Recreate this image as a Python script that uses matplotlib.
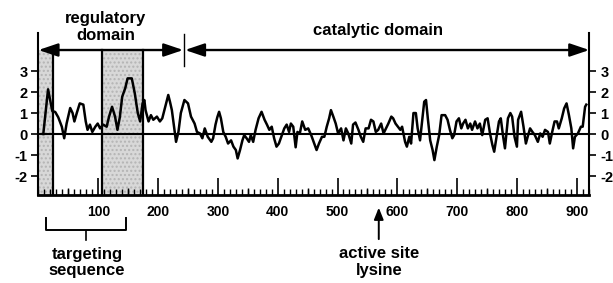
import matplotlib

matplotlib.use("Agg")
import matplotlib.pyplot as plt

plt.rcParams["font.family"] = ["Liberation Sans", "DejaVu Sans"]
plt.rcParams["font.weight"] = "bold"

# hydropathy profile (residue number, value)
residue = [
    8, 16, 23, 28, 33, 39, 43, 47, 53, 57,
    60, 64, 69, 75, 79, 82, 86, 90, 95, 99,
    103, 108, 114, 118, 123, 128, 132, 136, 140, 145,
    149, 156, 161, 166, 170, 174, 177, 179, 184, 188,
    192, 198, 203, 207, 212, 217, 220, 223, 227, 230,
    234, 238, 244, 250, 255, 261, 265, 270, 274, 278,
    283, 289, 292, 296, 299, 302, 305, 309, 313, 317,
    322, 326, 330, 333, 337, 341, 344, 348, 352, 355,
    359, 363, 368, 373, 378, 382, 386, 390, 394, 398,
    402, 407, 411, 415, 419, 422, 426, 430, 433, 437,
    441, 446, 451, 456, 460, 465, 469, 474, 478, 482,
    486, 489, 493, 497, 501, 506, 510, 514, 518, 523,
    526, 530, 535, 539, 543, 547, 552, 556, 560, 564,
    568, 573, 577, 581, 585, 590, 593, 597, 601, 605,
    608, 613, 616, 620, 623, 627, 631, 634, 638, 642,
    645, 648, 651, 655, 659, 662, 666, 670, 674, 680,
    684, 688, 692, 695, 699, 703, 707, 710, 714, 718,
    722, 725, 730, 734, 738, 742, 747, 751, 755, 759,
    762, 766, 770, 773, 777, 780, 785, 789, 792, 796,
    800, 802, 807, 811, 815, 818, 822, 826, 830, 835,
    839, 843, 847, 852, 855, 859, 863, 867, 870, 875,
    879, 883, 887, 891, 894, 897, 902, 907, 910, 914,
    916,
]
hydropathy = [
    0, 2.13, 1.1, 1.05, 0.8, 0.35, -0.2, 0.5, 1.24, 1.0,
    0.6, 1.0, 1.46, 1.4, 0.6, 0.2, 0.45, 0.1, 0.35, 0.5,
    0.27, 0.45, 0.35, 0.83, 1.3, 0.83, 0.2, 0.8, 1.78, 2.18,
    2.65, 2.65, 1.94, 1.0, 0.6, 1.46, 1.62, 1.14, 0.6, 0.9,
    0.68, 0.83, 0.6, 0.75, 1.3, 1.86, 1.52, 1.14, 0.27, -0.37,
    0.1, 1.0, 1.62, 1.46, 0.83, 0.5, 0.1, 0.03, -0.2, 0.27,
    -0.13, -0.37, -0.2, 0.45, 0.8, 1.06, 0.75, 0.1, -0.13, -0.45,
    -0.3, -0.6, -0.76, -1.16, -0.76, -0.3, -0.05, -0.2, -0.37, -0.05,
    -0.37, 0.2, 0.75, 1.06, 0.68, 0.45, 0.2, 0.35, -0.2, -0.6,
    -0.45, -0.05, 0.27, 0.45, 0.1, 0.5, 0.35, -0.63, 0.1, 0.03,
    0.6, 0.2, 0.27, -0.05, -0.37, -0.76, -0.45, -0.13, -0.13, 0.35,
    0.75, 1.14, 0.83, 0.5, 0.03, 0.27, -0.3, 0.27, 0.03, -0.45,
    0.45, 0.55, 0.2, -0.13, -0.37, 0.27, 0.27, 0.68, 0.6, 0.1,
    0.2, 0.5, 0.03, 0.27, 0.5, 0.83, 0.75, 0.5, 0.35, 0.2,
    0.35, -0.37, -0.6, -0.13, -0.45, 1.0, 1.0, 0.27, -0.3, 0.75,
    1.54, 1.62, 0.75, -0.3, -0.76, -1.24, -0.6, -0.05, 0.9, 0.9,
    0.68, 0.2, -0.2, -0.05, 0.6, 0.75, 0.27, 0.5, 0.68, 0.27,
    0.5, 0.2, 0.6, 0.27, 0.5, -0.05, 0.68, 0.75, 0.03, -0.52,
    -0.84, -0.13, 0.6, 0.75, -0.13, -0.68, 0.75, 1.0, 0.83, -0.13,
    -0.6, 0.68, 1.06, 0.35, -0.45, -0.13, 0.27, 0.1, -0.05, -0.37,
    0.03, -0.13, 0.2, 0.1, -0.45, 0.1, 0.6, 0.6, 0.27, 0.75,
    1.22, 1.46, 0.9, 0.27, -0.68, -0.13, 0.03, 0.35, 0.35, 1.3,
    1.4,
]

shaded_regions = [(0, 25), (107, 175)]
boundary_lines = [25, 107, 175]
domain_split = 243
protein_end = 921
active_site = 569
targeting = (12, 146)

y_ticks = [-2, -1, 0, 1, 2, 3]
x_ticks = [100, 200, 300, 400, 500, 600, 700, 800, 900]

Y_MIN, Y_TOP, Y_ARROW = -2.9, 4.81, 4.0

fig = plt.figure(figsize=(6.13, 2.83), dpi=100)
ax = fig.add_axes([0.0628, 0.311, 0.8985, 0.5724])
ax.set_xlim(0, protein_end)
ax.set_ylim(Y_MIN, Y_TOP)

span_top = (Y_ARROW - Y_MIN) / (Y_TOP - Y_MIN)
for start, stop in shaded_regions:
    ax.axvspan(start, stop, ymin=0, ymax=span_top, facecolor="#d8d8d8",
               edgecolor="#b4b4b4", hatch="....", linewidth=0, zorder=0)
for xb in boundary_lines:
    ax.plot([xb, xb], [Y_MIN, Y_ARROW], color="black", lw=1.6, zorder=2)

ax.axhline(0, color="black", lw=1.5, zorder=2)
ax.plot(residue, hydropathy, color="black", lw=1.8, zorder=3)

# domain arrows
arrow_kw = dict(arrowstyle="<|-|>,head_length=0.65,head_width=0.22", color="black",
                lw=1.7, mutation_scale=18, shrinkA=0, shrinkB=0)
ax.annotate("", xy=(domain_split - 1, Y_ARROW), xytext=(0, Y_ARROW),
            arrowprops=arrow_kw, annotation_clip=False)
ax.annotate("", xy=(protein_end, Y_ARROW), xytext=(domain_split + 2, Y_ARROW),
            arrowprops=arrow_kw, annotation_clip=False)
ax.plot([domain_split, domain_split], [3.25, 4.76], color="black", lw=1.0, clip_on=False)

# axes look
ax.spines["top"].set_visible(False)
for side in ["left", "right", "bottom"]:
    ax.spines[side].set_linewidth(1.5)
ax.spines["bottom"].set_linewidth(2.0)

ax.set_yticks(y_ticks)
ax.set_yticklabels([str(v) for v in y_ticks])
ax.tick_params(axis="y", which="major", direction="out", length=5, width=1.2,
               labelsize=10.5, pad=3, left=True, right=True, labelleft=True, labelright=True)
ax.set_xticks(x_ticks)
ax.set_xticklabels([str(v) for v in x_ticks])
ax.set_xticks(range(0, protein_end, 10), minor=True)
ax.tick_params(axis="x", which="major", direction="in", length=12, width=1.2,
               labelsize=10, pad=7)
ax.tick_params(axis="x", which="minor", direction="in", length=4.5, width=1.0)
ax.vlines(range(50, protein_end, 100), 0, 7 / 162, transform=ax.get_xaxis_transform(),
          color="black", lw=1.0)

# labels
fig.text(106 / 613, 1 - 19 / 283, "regulatory", ha="center", va="center", fontsize=12)
fig.text(106 / 613, 1 - 35 / 283, "domain", ha="center", va="center", fontsize=12)
fig.text(378 / 613, 1 - 31 / 283, "catalytic domain", ha="center", va="center", fontsize=12)

# targeting sequence bracket
y_br_top, y_br = -3.98, -4.55
t0, t1 = targeting
tmid = (t0 + t1) / 2
ax.plot([t0, t0, t1, t1], [y_br_top, y_br, y_br, y_br_top], color="black", lw=1.4,
        clip_on=False)
ax.plot([tmid, tmid], [y_br - 0.08, y_br - 0.5], color="black", lw=1.2, clip_on=False)
fig.text(87 / 613, 1 - 254 / 283, "targeting", ha="center", va="center", fontsize=12)
fig.text(87 / 613, 1 - 271 / 283, "sequence", ha="center", va="center", fontsize=12)

# active site lysine arrow
ax.annotate("", xy=(active_site, -3.5), xytext=(active_site, -5.0),
            arrowprops=dict(arrowstyle="-|>,head_length=0.5,head_width=0.2", color="black",
                            lw=1.4, mutation_scale=14, shrinkA=0, shrinkB=0),
            annotation_clip=False)
fig.text(379 / 613, 1 - 254 / 283, "active site", ha="center", va="center", fontsize=12)
fig.text(379 / 613, 1 - 271 / 283, "lysine", ha="center", va="center", fontsize=12)

fig.savefig("out.png", dpi=100, facecolor="white")
